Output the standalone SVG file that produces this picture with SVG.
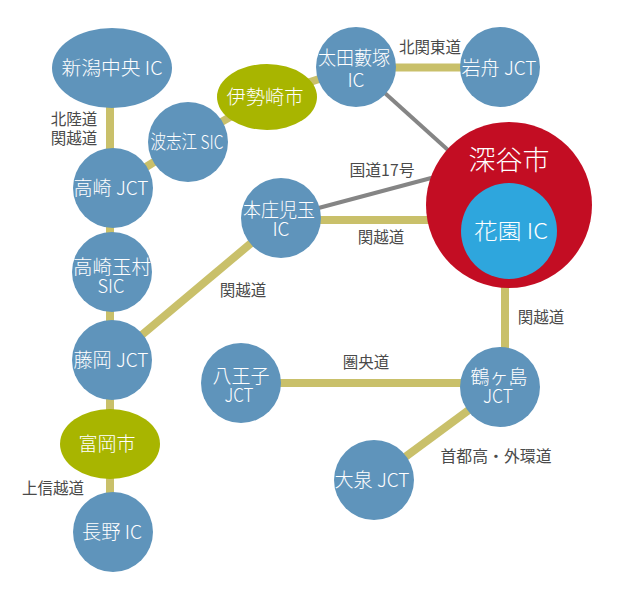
<svg xmlns="http://www.w3.org/2000/svg" width="629" height="600" viewBox="0 0 629 600">
<style>
.road{stroke:#c9c06a;stroke-width:8;fill:none}
.nat{stroke:#858585;stroke-width:4;fill:none}
.blue{fill:#5f94bb}
.olive{fill:#a8b500}
.t{font-family:"Noto Sans CJK JP","Open Sans",sans-serif;fill:#fff;text-anchor:middle;font-size:19px;font-weight:300}
.lbl{font-family:"Noto Sans CJK JP","Open Sans",sans-serif;fill:#4a4a4a;text-anchor:middle;font-size:15.5px}
</style>
<rect width="629" height="600" fill="#fff"/>
<g id="connectors">
<line class="road" x1="110" y1="68" x2="110" y2="532"/>
<line class="road" x1="112" y1="188" x2="188" y2="141"/>
<line class="road" x1="188" y1="141" x2="267" y2="96"/>
<line class="road" x1="267" y1="96" x2="356" y2="67"/>
<line class="road" x1="356" y1="67.5" x2="500" y2="67.5"/>
<line class="nat" x1="356" y1="67" x2="509" y2="205"/>
<line class="nat" x1="281" y1="218" x2="480" y2="165"/>
<line class="road" x1="281" y1="220" x2="509" y2="220"/>
<line class="road" x1="505" y1="231" x2="505" y2="387"/>
<line class="road" x1="241" y1="383" x2="500" y2="383"/>
<line class="road" x1="500" y1="387" x2="374" y2="480"/>
<line class="road" x1="112" y1="360" x2="281" y2="218"/>
<text class="lbl" x="74" y="125">北陸道</text>
<text class="lbl" x="74" y="144">関越道</text>
<text class="lbl" x="430" y="53">北関東道</text>
<text class="lbl" x="382" y="176" textLength="65" lengthAdjust="spacingAndGlyphs">国道17号</text>
<text class="lbl" x="381" y="243">関越道</text>
<text class="lbl" x="243" y="296">関越道</text>
<text class="lbl" x="541" y="323">関越道</text>
<text class="lbl" x="366" y="368">圏央道</text>
<text class="lbl" x="496" y="462" textLength="111" lengthAdjust="spacingAndGlyphs">首都高・外環道</text>
<text class="lbl" x="53" y="494">上信越道</text>
</g>
<g id="niigata"><ellipse class="blue" cx="112" cy="68" rx="60" ry="40"/><text class="t" x="112" y="75" textLength="101" lengthAdjust="spacingAndGlyphs">新潟中央 IC</text></g>
<g id="takasaki"><circle class="blue" cx="113" cy="188" r="40"/><text class="t" x="111" y="195" textLength="75" lengthAdjust="spacingAndGlyphs">高崎 JCT</text></g>
<g id="hashie"><circle class="blue" cx="188" cy="142" r="40"/><text class="t" x="187" y="149" textLength="73" lengthAdjust="spacingAndGlyphs">波志江 SIC</text></g>
<g id="isesaki"><ellipse class="olive" cx="267" cy="97" rx="50" ry="33"/><text class="t" x="265" y="104" textLength="77" lengthAdjust="spacingAndGlyphs">伊勢崎市</text></g>
<g id="ota"><circle class="blue" cx="356" cy="67" r="40"/><text class="t" x="354" y="65" textLength="72" lengthAdjust="spacingAndGlyphs">太田藪塚</text><text class="t" x="356" y="87">IC</text></g>
<g id="iwafune"><circle class="blue" cx="500" cy="67" r="40"/><text class="t" x="499" y="75" textLength="75" lengthAdjust="spacingAndGlyphs">岩舟 JCT</text></g>
<g id="fukaya"><circle fill="#c30d23" cx="509" cy="205" r="83"/><text class="t" x="509" y="170" style="font-size:27px">深谷市</text></g>
<g id="hanazono"><circle fill="#2ea6dd" cx="509" cy="231" r="48"/><text class="t" x="511" y="239" style="font-size:22px" textLength="74" lengthAdjust="spacingAndGlyphs">花園 IC</text></g>
<g id="honjo"><circle class="blue" cx="281" cy="218" r="40"/><text class="t" x="279" y="217" textLength="72" lengthAdjust="spacingAndGlyphs">本庄児玉</text><text class="t" x="281" y="236">IC</text></g>
<g id="tamamura"><circle class="blue" cx="112" cy="272" r="40"/><text class="t" x="112" y="274" textLength="78" lengthAdjust="spacingAndGlyphs">高崎玉村</text><text class="t" x="111" y="293" textLength="27" lengthAdjust="spacingAndGlyphs">SIC</text></g>
<g id="fujioka"><circle class="blue" cx="112" cy="360" r="40"/><text class="t" x="111" y="367" textLength="75" lengthAdjust="spacingAndGlyphs">藤岡 JCT</text></g>
<g id="hachioji"><circle class="blue" cx="241" cy="383" r="40"/><text class="t" x="241" y="383">八王子</text><text class="t" x="239" y="402" textLength="29" lengthAdjust="spacingAndGlyphs">JCT</text></g>
<g id="tsurugashima"><circle class="blue" cx="500" cy="387" r="40"/><text class="t" x="499" y="384">鶴ヶ島</text><text class="t" x="498" y="403" textLength="30" lengthAdjust="spacingAndGlyphs">JCT</text></g>
<g id="oizumi"><circle class="blue" cx="374" cy="480" r="40"/><text class="t" x="372" y="487" textLength="75" lengthAdjust="spacingAndGlyphs">大泉 JCT</text></g>
<g id="tomioka"><ellipse class="olive" cx="110" cy="444" rx="50" ry="35"/><text class="t" x="107" y="451">富岡市</text></g>
<g id="nagano"><circle class="blue" cx="113" cy="532" r="40"/><text class="t" x="112" y="539" textLength="60" lengthAdjust="spacingAndGlyphs">長野 IC</text></g>
</svg>
